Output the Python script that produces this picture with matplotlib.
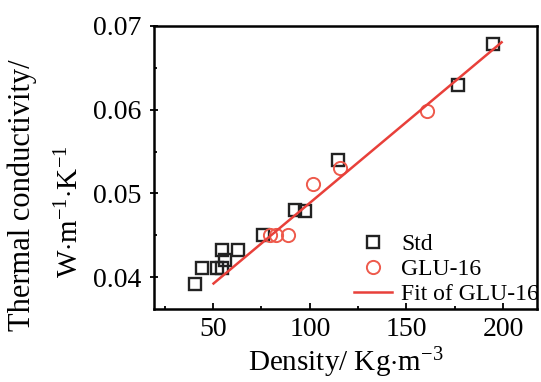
import matplotlib
matplotlib.use("Agg")
import matplotlib.pyplot as plt
from matplotlib.ticker import MultipleLocator

plt.rcParams['font.family'] = ['Liberation Serif', 'DejaVu Serif']
plt.rcParams['mathtext.fontset'] = 'custom'
plt.rcParams['mathtext.rm'] = 'Liberation Serif'
plt.rcParams['mathtext.it'] = 'Liberation Serif:italic'

# Data
std_x = [194.9, 176.8, 114.5, 92.4, 97.6, 76.0, 54.5, 62.6, 56.2, 44.2, 51.9, 54.5, 40.7]
std_y = [0.0678, 0.0629, 0.0540, 0.0480, 0.0479, 0.0450, 0.0432, 0.0432, 0.0421, 0.0411, 0.0411, 0.0411, 0.0392]
glu_x = [160.5, 115.7, 101.9, 79.5, 82.6, 88.9]
glu_y = [0.0599, 0.0530, 0.0511, 0.0450, 0.0450, 0.0451]
fit_x = [50.2, 199.2]
fit_y = [0.03925, 0.06805]
x_ticks = [50, 100, 150, 200]
y_ticks = [0.04, 0.05, 0.06, 0.07]

fig = plt.figure(figsize=(5.41, 3.82), dpi=100)
ax = fig.add_axes([0.285, 0.191, 0.9926 - 0.285, 0.932 - 0.191])

ax.plot(std_x, std_y, 's', ms=8.5, mfc='none', mec='#222222', mew=1.7, label='Std')
ax.plot(glu_x, glu_y, 'o', ms=9.5, mfc='none', mec='#ee5a4c', mew=1.4, label='GLU-16')
ax.plot(fit_x, fit_y, '-', color='#e8403a', lw=1.8, label='Fit of GLU-16')

ax.set_xlim(19.5, 217.5)
ax.set_ylim(0.0362, 0.0697)
ax.set_xticks(x_ticks)
ax.set_yticks(y_ticks)
ax.set_xticklabels([str(v) for v in x_ticks])
ax.set_yticklabels(['%.2f' % v for v in y_ticks])
ax.xaxis.set_minor_locator(MultipleLocator(25))
ax.yaxis.set_minor_locator(MultipleLocator(0.005))
ax.tick_params(which='both', direction='in', labelsize=20, width=1.3, pad=6)
ax.tick_params(which='major', length=4)
ax.tick_params(which='minor', length=2.5)
ax.tick_params(axis='y', which='major', direction='inout', length=6)
for s in ax.spines.values():
    s.set_linewidth(1.8)

ax.set_xlabel('Density/ Kg$\\cdot$m$^{-3}$', fontsize=21, labelpad=2)

fig.text(22 / 541, 1 - 195 / 382, 'Thermal conductivity/', rotation=90,
         ha='center', va='center', fontsize=22)
fig.text(70 / 541, 1 - 212 / 382, 'W$\\cdot$m$^{-1}$$\\cdot$K$^{-1}$', rotation=90,
         ha='center', va='center', fontsize=21)

leg = ax.legend(loc='lower right', frameon=False, fontsize=17, handlelength=1.6,
                borderaxespad=0.0, handletextpad=0.4, labelspacing=0.15,
                bbox_to_anchor=(1.03, -0.02))

fig.savefig('out.png', dpi=100)
